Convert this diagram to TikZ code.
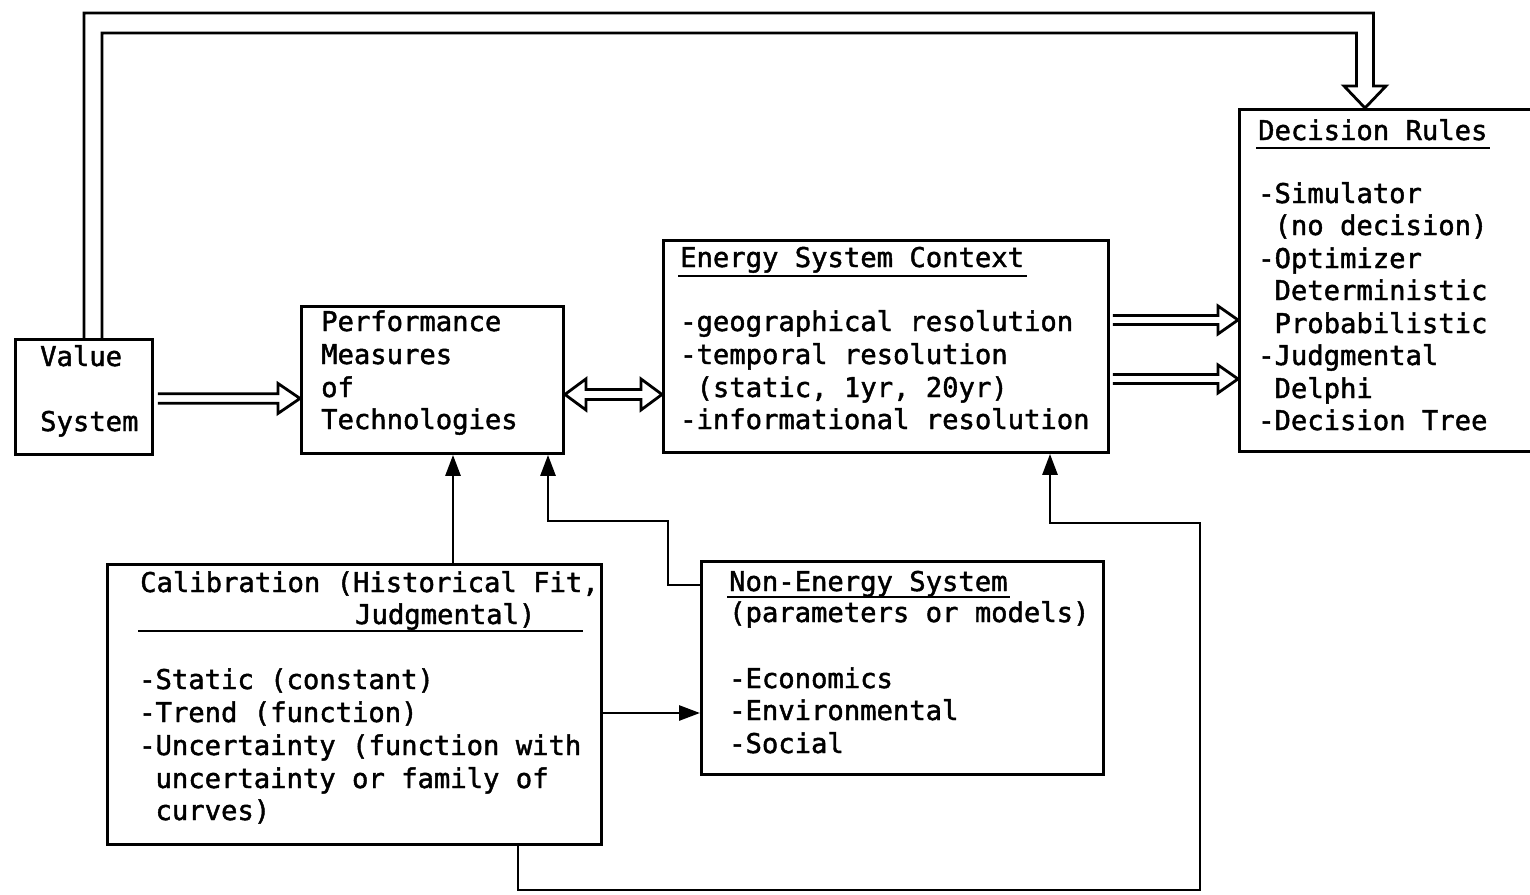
\documentclass[tikz,border=0pt]{standalone}
\usepackage{fontspec}
\setmainfont{DejaVu Sans Mono}[FakeBold=1.6]
\usetikzlibrary{calc,arrows.meta}

\tikzset{
  box/.style={draw, line width=2.9pt, inner sep=0pt, anchor=north west},
  txt/.style={anchor=base west, inner sep=0pt, font=\fontsize{27.2}{33}\selectfont},
  hollow/.style={draw, line width=2.8pt, line join=miter, miter limit=10},
  link/.style={draw, line width=2.8pt, -{Triangle[length=21pt,width=15pt]}},
  rulebar/.style={line width=2.6pt}
}

% open double-line arrow pointing from #1 to #2
% #3 shaft half width, #4 head half width, #5 head length
\newcommand\hollowR[5]{%
  \draw[hollow] ($(#1)+(0,-#3)$) -- ($(#2)+(-#5,-#3)$) -- ($(#2)+(-#5,-#4)$)
    -- (#2) -- ($(#2)+(-#5,#4)$) -- ($(#2)+(-#5,#3)$) -- ($(#1)+(0,#3)$);}
% the same with a head at both ends
\newcommand\hollowLR[5]{%
  \draw[hollow] (#1) -- ($(#1)+(#5,-#4)$) -- ($(#1)+(#5,-#3)$)
    -- ($(#2)+(-#5,-#3)$) -- ($(#2)+(-#5,-#4)$) -- (#2)
    -- ($(#2)+(-#5,#4)$) -- ($(#2)+(-#5,#3)$) -- ($(#1)+(#5,#3)$)
    -- ($(#1)+(#5,#4)$) -- cycle;}

\begin{document}
\begin{tikzpicture}[x=1pt,y=-1pt]
\useasboundingbox (0,0) rectangle (1530,894);

% boxes
\node[box, minimum width=137pt, minimum height=115pt] (value)  at (14,338)  {};
\node[box, minimum width=262pt, minimum height=147pt] (perf)   at (300,305) {};
\node[box, minimum width=445pt, minimum height=212pt] (energy) at (662,239) {};
\node[box, minimum width=307pt, minimum height=342pt] (dec)    at (1238,108) {};
\node[box, minimum width=494pt, minimum height=280pt] (calib)  at (106,563) {};
\node[box, minimum width=402pt, minimum height=213pt] (nonen)  at (700,560) {};

% Value System
\node[txt] (v1) at (40,366) {Value};
\node[txt] (v2) at (40,431) {System};

% Performance Measures
\node[txt] (p1) at (321,331) {Performance};
\node[txt] (p2) at (321,364) {Measures};
\node[txt] (p3) at (321,397) {of};
\node[txt] (p4) at (321,429) {Technologies};

% Energy System Context
\node[txt] (e0) at (680,267) {Energy System Context};
\draw[rulebar] ($(energy.north west)+(16,37)$) -- ++(349,0);
\node[txt] (e1) at (680,331) {-geographical resolution};
\node[txt] (e2) at (680,364) {-temporal resolution};
\node[txt] (e3) at (680,397) {\hphantom{-}(static, 1yr, 20yr)};
\node[txt] (e4) at (680,429) {-informational resolution};

% Decision Rules
\node[txt] (d0) at (1258,140) {Decision Rules};
\draw[rulebar] ($(dec.north west)+(18,40)$) -- ++(234,0);
\node[txt] (d1) at (1258,203) {-Simulator};
\node[txt] (d2) at (1258,235) {\hphantom{-}(no decision)};
\node[txt] (d3) at (1258,268) {-Optimizer};
\node[txt] (d4) at (1258,300) {\hphantom{-}Deterministic};
\node[txt] (d5) at (1258,333) {\hphantom{-}Probabilistic};
\node[txt] (d6) at (1258,365) {-Judgmental};
\node[txt] (d7) at (1258,398) {\hphantom{-}Delphi};
\node[txt] (d8) at (1258,430) {-Decision Tree};

% Calibration
\node[txt] (c0) at (140,592) {Calibration (Historical Fit,};
\node[txt] (c0b) at (355,624) {Judgmental)};
\draw[rulebar] ($(calib.north west)+(32,68)$) -- ++(445,0);
\node[txt] (c1) at (139,689) {-Static (constant)};
\node[txt] (c2) at (139,722) {-Trend (function)};
\node[txt] (c3) at (139,755) {-Uncertainty (function with};
\node[txt] (c4) at (139,788) {\hphantom{-}uncertainty or family of};
\node[txt] (c5) at (139,820) {\hphantom{-}curves)};

% Non-Energy System
\node[txt] (n0) at (729,591) {Non-Energy System};
\draw[rulebar] ($(nonen.north west)+(27,37)$) -- ++(283,0);
\node[txt] (n0b) at (729,622) {(parameters or models)};
\node[txt] (n1) at (729,688) {-Economics};
\node[txt] (n2) at (729,720) {-Environmental};
\node[txt] (n3) at (729,753) {-Social};

% feedback from the value system to the decision rules
\coordinate (dtip) at ($(dec.north west)+(127,0)$);
\draw[hollow] ($(value.north west)+(70,0)$) |- ($(dtip)+(8.5,-95)$)
  -- ($(dtip)+(8.5,-22)$) -- ($(dtip)+(21,-22)$) -- (dtip)
  -- ($(dtip)+(-21,-22)$) -- ($(dtip)+(-8.5,-22)$) -- ($(dtip)+(-8.5,-75)$)
  -| ($(value.north west)+(88,0)$);

% open double-line arrows between the upper boxes
\coordinate (vp1) at ($(value.east)+(4,1.5)$);
\coordinate (vp2) at (perf.west |- vp1);
\hollowR{vp1}{vp2}{4.8}{15}{22}

\coordinate (pe1) at ($(perf.east)+(0,14.5)$);
\coordinate (pe2) at (energy.west |- pe1);
\hollowLR{pe1}{pe2}{5}{15.5}{21}

\coordinate (ed1) at ($(energy.east)+(3,-26.5)$);
\coordinate (ed2) at (dec.west |- ed1);
\hollowR{ed1}{ed2}{4.5}{14}{20}
\coordinate (ed3) at ($(energy.east)+(3,32.5)$);
\coordinate (ed4) at (dec.west |- ed3);
\hollowR{ed3}{ed4}{4.5}{14}{20}

% solid connectors
\coordinate (pin1) at ($(perf.south west)+(153,0)$);
\draw[link] (calib.north -| pin1) -- (pin1);

\coordinate (pin2) at ($(perf.south west)+(248,0)$);
\draw[link] ($(nonen.north west)+(0,25)$) -- ++(-32,0) |- ($(pin2)+(0,66)$) -- (pin2);

\coordinate (cn) at ($(calib.north east)+(0,150)$);
\draw[link] (cn) -- (cn -| nonen.west);

\coordinate (cout) at ($(calib.south west)+(412,0)$);
\coordinate (turn) at (1200,890);
\coordinate (ein) at ($(energy.south west)+(388,0)$);
\draw[link] (cout) |- (turn) |- ($(ein)+(0,69)$) -- (ein);
\end{tikzpicture}
\end{document}
